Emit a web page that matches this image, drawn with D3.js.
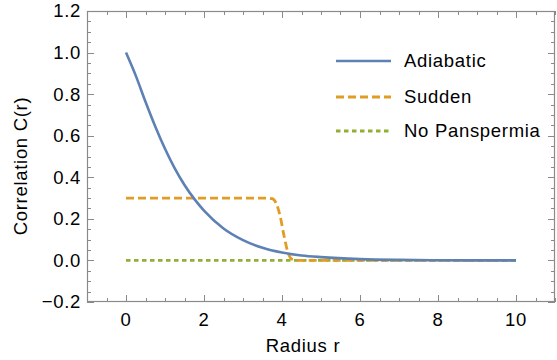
<!DOCTYPE html>
<html>
<head>
<meta charset="utf-8">
<script src="https://cdn.jsdelivr.net/npm/d3@7"></script>
<style>
  body { margin: 0; background: #fff; overflow: hidden; }
  svg { display: block; }
  text { font-family: "Liberation Sans", Arial, sans-serif; fill: #000; letter-spacing: 0.7px; }
</style>
</head>
<body>
<div id="chart"></div>
<script>
// values
const adiabaticR = [0, 0.25, 0.5, 0.75, 1, 1.25, 1.5, 1.75, 2, 2.5, 3, 3.5, 4, 4.5, 5, 6, 7, 8, 9, 10];
const adiabaticC = [1.0, 0.889, 0.763, 0.644, 0.537, 0.443, 0.363, 0.296, 0.240, 0.154, 0.098, 0.061, 0.038, 0.024, 0.016, 0.0065, 0.0025, 0.001, 0.0004, 0.0002];
const suddenR = [0, 3.6, 3.75, 3.85, 3.95, 4.05, 4.15, 4.25, 4.35, 10];
const suddenC = [0.3, 0.3, 0.297, 0.275, 0.215, 0.12, 0.04, 0.006, 0, 0];
const noPanR = [0, 10];
const noPanC = [0, 0];
const seriesNames = ['Adiabatic', 'Sudden', 'No Panspermia'];
const seriesColors = ['#5e81b5', '#e19c24', '#8fb032'];
const xTicks = [0, 2, 4, 6, 8, 10];
const yTicks = [-0.2, 0.0, 0.2, 0.4, 0.6, 0.8, 1.0, 1.2];

const width = 557, height = 360;
const margin = { top: 11, right: 2, bottom: 58, left: 87 };
const innerWidth = width - margin.left - margin.right;
const innerHeight = height - margin.top - margin.bottom;

const x = d3.scaleLinear().domain([-1, 11]).range([0, innerWidth]);
const y = d3.scaleLinear().domain([-0.2, 1.2]).range([innerHeight, 0]);

const svg = d3.select('#chart').append('svg')
    .attr('width', width)
    .attr('height', height);

const g = svg.append('g')
    .attr('transform', `translate(${margin.left}, ${margin.top})`);

const frameColor = '#8a8a8a';
const fontSize = 18.5;

// minor ticks every 0.5 in x and 0.05 in y, inward on all four sides
const xMinor = d3.range(-1, 11.001, 0.5);
const yMinor = d3.range(-0.2, 1.2001, 0.05);
const isMajorX = (v) => Math.abs(v / 2 - Math.round(v / 2)) < 1e-6;
const isMajorY = (v) => Math.abs(v / 0.2 - Math.round(v / 0.2)) < 1e-6;

const ticks = g.append('g')
    .attr('stroke', frameColor)
    .attr('stroke-width', 1);

xMinor.forEach((v) => {
  const len = isMajorX(v) ? 7 : 4;
  const px = Math.round(x(v)) + 0.5;
  ticks.append('line').attr('x1', px).attr('x2', px).attr('y1', innerHeight).attr('y2', innerHeight - len);
  ticks.append('line').attr('x1', px).attr('x2', px).attr('y1', 0).attr('y2', len);
});
yMinor.forEach((v) => {
  const len = isMajorY(v) ? 7 : 4;
  const py = Math.round(y(v)) + 0.5;
  ticks.append('line').attr('x1', 0).attr('x2', len).attr('y1', py).attr('y2', py);
  ticks.append('line').attr('x1', innerWidth).attr('x2', innerWidth - len).attr('y1', py).attr('y2', py);
});

// frame
g.append('rect')
    .attr('x', 0.5)
    .attr('y', 0.5)
    .attr('width', innerWidth - 1)
    .attr('height', innerHeight - 1)
    .attr('fill', 'none')
    .attr('stroke', frameColor)
    .attr('stroke-width', 1.2);

// tick labels
g.append('g').selectAll('text')
    .data(xTicks)
    .join('text')
    .attr('x', (d) => x(d))
    .attr('y', innerHeight + 24)
    .attr('text-anchor', 'middle')
    .style('font-size', fontSize + 'px')
    .text((d) => d3.format('d')(d));

g.append('g').selectAll('text')
    .data(yTicks)
    .join('text')
    .attr('x', -6)
    .attr('y', (d) => y(d))
    .attr('dy', '0.35em')
    .attr('text-anchor', 'end')
    .style('font-size', fontSize + 'px')
    .text((d) => d < 0 ? '\u2212' + d3.format('.1f')(-d) : d3.format('.1f')(d));

// axis titles
svg.append('text')
    .attr('x', 303)
    .attr('y', 352)
    .attr('text-anchor', 'middle')
    .style('font-size', fontSize + 'px')
    .text('Radius r');

svg.append('text')
    .attr('transform', 'translate(27, 166) rotate(-90)')
    .attr('text-anchor', 'middle')
    .style('font-size', fontSize + 'px')
    .text('Correlation C(r)');

// curves
const series = [
  { r: adiabaticR, c: adiabaticC, dash: null, width: 2.6 },
  { r: suddenR, c: suddenC, dash: '8,4', width: 2.8 },
  { r: noPanR, c: noPanC, dash: '4.5,3.5', width: 2.8 },
];

const line = d3.line()
    .x((d) => x(d[0]))
    .y((d) => y(d[1]))
    .curve(d3.curveMonotoneX);

// draw no-panspermia first so orange/blue overlays mimic the reference mixing
[2, 1, 0].forEach((i) => {
  const s = series[i];
  g.append('path')
      .datum(s.r.map((r, k) => [r, s.c[k]]))
      .attr('d', line)
      .attr('fill', 'none')
      .attr('stroke', seriesColors[i])
      .attr('stroke-width', s.width)
      .attr('stroke-dasharray', s.dash);
});

// legend
const legend = svg.append('g');
const legendY = [61, 97, 131];
seriesNames.forEach((name, i) => {
  legend.append('line')
      .attr('x1', 336)
      .attr('x2', 391)
      .attr('y1', legendY[i])
      .attr('y2', legendY[i])
      .attr('stroke', seriesColors[i])
      .attr('stroke-width', series[i].width)
      .attr('stroke-dasharray', series[i].dash);
  legend.append('text')
      .attr('x', 404)
      .attr('y', legendY[i])
      .attr('dy', '0.35em')
      .style('font-size', fontSize + 'px')
      .text(name);
});
</script>
</body>
</html>
